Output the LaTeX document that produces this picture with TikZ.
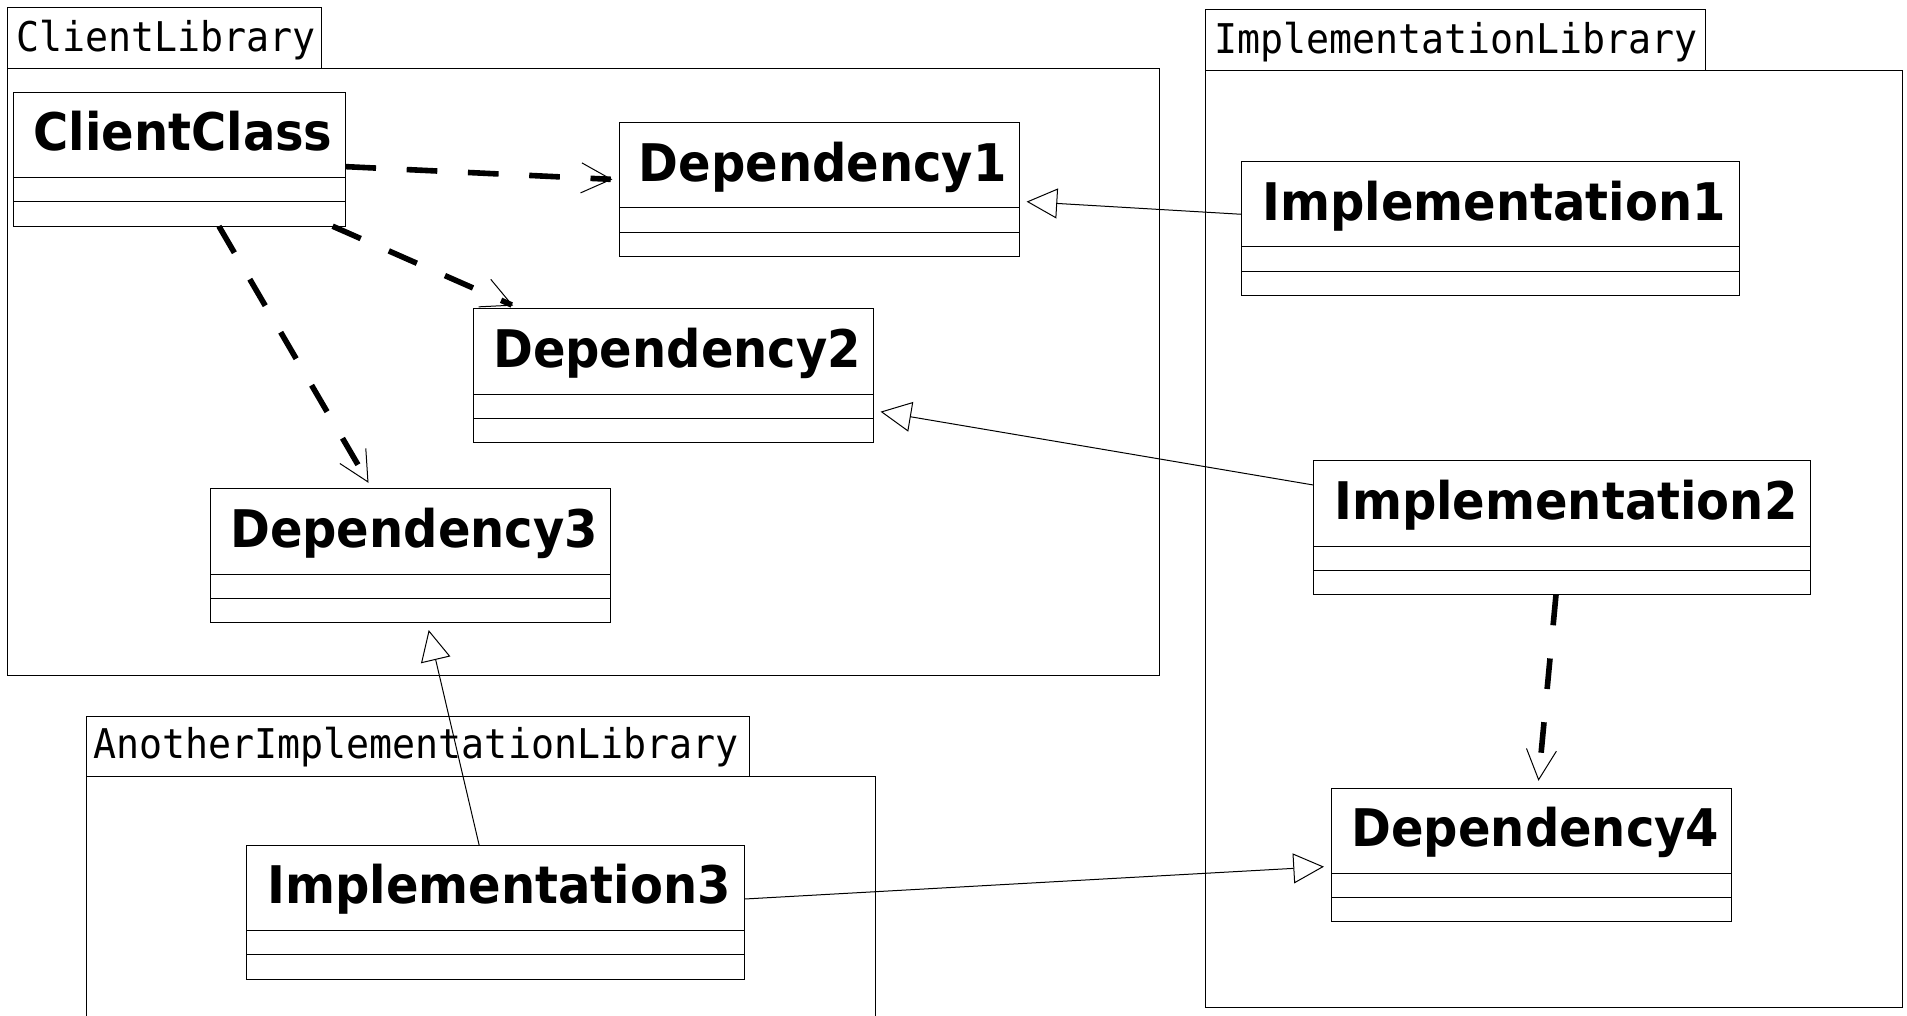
\documentclass[tikz,border=0pt]{standalone}
\usepackage{fontspec}
\usepackage{graphicx}
\usetikzlibrary{arrows.meta}
\newfontfamily\clsfont{DejaVu Sans}
\newfontfamily\pkgfont{DejaVu Sans Mono}
\tikzset{
  thinline/.style={line width=0.75pt, draw=black},
  clsbox/.style={draw=black, line width=0.75pt, inner sep=0pt, outer sep=0pt, rectangle},
  clstext/.style={font=\clsfont\bfseries\fontsize{36}{36}\selectfont, inner sep=0pt},
  pkgtext/.style={font=\pkgfont\fontsize{28.7}{28.7}\selectfont, inner sep=0pt, anchor=base west},
  depend/.style={line width=4.2pt, dash pattern=on 23pt off 23pt,
    -{Straight Barb[length=22.5pt,width=22.5pt,line width=0.75pt 0]}},
  realize/.style={line width=0.75pt, -{Triangle[open,length=23pt,width=22.5pt,line width=0.75pt 0]}},
}
% name, x1, y1, x2, text
\newcommand{\umlclass}[5]{%
  \node[clsbox, anchor=north west, minimum width={(#4-#2)*0.912pt}, minimum height=100.32pt] (#1) at (#2,#3) {};
  \draw[thinline] ([yshift=-63.84pt]#1.north west) -- ([yshift=-63.84pt]#1.north east);
  \draw[thinline] ([yshift=-82.08pt]#1.north west) -- ([yshift=-82.08pt]#1.north east);
  \node[clstext, anchor=base] (#1-t) at ([yshift=-43.78pt,xshift=2.7pt]#1.north) {\scalebox{1}[1.08]{#5}};
}
\begin{document}
\begin{tikzpicture}[x=0.912pt, y=-0.912pt]
\useasboundingbox (0,0) rectangle (1568,835);
\clip (0,0) rectangle (1568,835);

% packages
\draw[thinline] (6,6) rectangle (264,56);
\draw[thinline] (6,56) rectangle (953,555);
\node[pkgtext] (p1) at (13,42.5) {\scalebox{1}[1.07]{ClientLibrary}};

\draw[thinline] (991,8) rectangle (1402.5,58);
\draw[thinline] (991,58) rectangle (1564.5,828);
\node[pkgtext] (p2) at (998,44) {\scalebox{1}[1.07]{ImplementationLibrary}};

\draw[thinline] (71,589) rectangle (616,638.5);
\draw[thinline] (71,850) -- (71,638.5) -- (719.5,638.5) -- (719.5,850);
\node[pkgtext] (p3) at (76.5,623.5) {\scalebox{1}[1.07]{AnotherImplementationLibrary}};

% classes
\umlclass{cc}{11}{76}{284}{ClientClass}
\umlclass{dep1}{509}{101}{838}{Dependency1}
\umlclass{dep2}{389}{254}{718.5}{Dependency2}
\umlclass{dep3}{173}{402}{502}{Dependency3}
\umlclass{impl1}{1021}{133}{1430}{Implementation1}
\umlclass{impl2}{1080}{379}{1489}{Implementation2}
\umlclass{dep4}{1095}{648}{1424}{Dependency4}
\umlclass{impl3}{203}{695}{612}{Implementation3}

% dependencies
\draw[depend] ([yshift=-55.63pt]cc.north east) -- ([xshift=-5.02pt,yshift=-42.41pt]dep1.north west);
\draw[depend] ([xshift=-9.58pt]cc.south east) -- ([xshift=30.1pt,yshift=2.46pt]dep2.north west);
\draw[depend] ([xshift=154.13pt]cc.south west) -- ([xshift=118.56pt,yshift=4.56pt]dep3.north west);
\draw[depend, dash pattern=on 23pt off 25pt] ([xshift=181.85pt]impl2.south west) -- ([xshift=155.04pt,yshift=5.47pt]dep4.north west);

% realizations
\draw[realize] ([yshift=-39.4pt]impl1.north west) -- ([xshift=5.56pt,yshift=-59.1pt]dep1.north east);
\draw[realize] ([yshift=-18.06pt]impl2.north west) -- ([xshift=5.02pt,yshift=-77.06pt]dep2.north east);
\draw[realize] ([yshift=-40.31pt]impl3.north east) -- ([xshift=-5.84pt,yshift=-58.92pt]dep4.north west);
\draw[realize] ([xshift=174.19pt]impl3.north west) -- ([xshift=163.7pt,yshift=-5.47pt]dep3.south west);
\end{tikzpicture}
\end{document}
